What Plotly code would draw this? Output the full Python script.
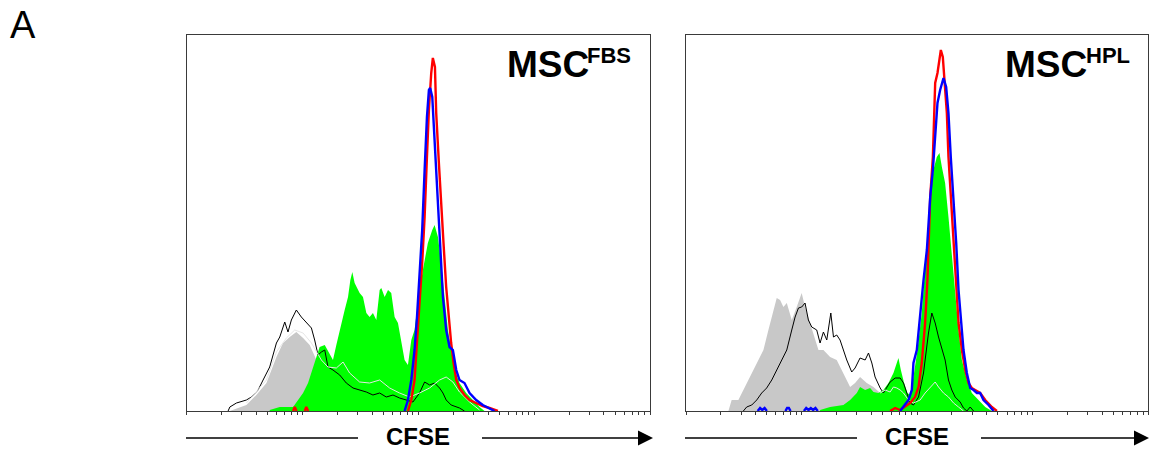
import numpy as np
import plotly.graph_objects as go

# ---------------- DATA (x = log10 CFSE intensity, y = event counts) ----------------
# Panel 1: MSC FBS
fbs_gray_log = [0.374, 0.517, 0.603, 0.690, 0.776, 0.833, 0.891, 0.948, 1.006, 1.063, 1.121, 1.207, 1.322, 1.494, 1.667]
fbs_gray_cnt = [0, 6, 16, 28, 54, 68, 74, 79, 73, 66, 51, 30, 12, 4, 0]

fbs_green_log = [0.718, 0.805, 0.920, 1.006, 1.049, 1.092, 1.121, 1.149, 1.193, 1.236, 1.264, 1.293, 1.322, 1.365,
                 1.394, 1.414, 1.431, 1.451, 1.494, 1.523, 1.552, 1.580, 1.609, 1.638, 1.667, 1.681, 1.710, 1.739,
                 1.767, 1.796, 1.825, 1.853, 1.882, 1.911, 1.940, 1.968, 1.997, 2.040, 2.083, 2.121, 2.141, 2.170,
                 2.198, 2.227, 2.256, 2.284, 2.313, 2.356, 2.414, 2.471, 2.529, 2.572]
fbs_green_cnt = [1, 4, 4, 18, 28, 44, 56, 64, 66, 56, 51, 66, 81, 101,
                 114, 131, 139, 128, 118, 114, 98, 94, 98, 91, 121, 123, 114, 121,
                 118, 94, 88, 68, 51, 46, 71, 81, 108, 141, 168, 181, 186, 174,
                 148, 114, 81, 61, 41, 28, 18, 11, 4, 0]

fbs_black_log = [0.359, 0.374, 0.431, 0.517, 0.560, 0.618, 0.661, 0.718, 0.776, 0.805, 0.848, 0.876, 0.905, 0.948,
                 0.991, 1.034, 1.078, 1.106, 1.135, 1.164, 1.193, 1.221, 1.264, 1.322, 1.379, 1.437, 1.494, 1.552,
                 1.609, 1.667, 1.724, 1.782, 1.839, 1.897, 1.954, 2.011, 2.055, 2.098, 2.141, 2.184, 2.213, 2.241,
                 2.284, 2.356, 2.399]
fbs_black_cnt = [0, 4, 8, 11, 14, 21, 31, 44, 68, 74, 89, 79, 91, 101,
                 94, 88, 83, 71, 56, 59, 61, 44, 41, 36, 28, 23, 21, 19,
                 16, 18, 14, 16, 13, 11, 9, 18, 29, 26, 28, 23, 18, 11,
                 6, 3, 0]

fbs_white_log = [0.517, 0.690, 0.776, 0.862, 0.934, 1.006, 1.078, 1.121, 1.164, 1.221, 1.293, 1.351, 1.408, 1.494,
                 1.580, 1.667, 1.753, 1.839, 1.925, 2.011, 2.098, 2.184, 2.241, 2.299, 2.356, 2.443, 2.529]
fbs_white_cnt = [8, 31, 59, 73, 81, 78, 68, 59, 51, 44, 43, 49, 38, 29,
                 28, 31, 23, 18, 14, 18, 23, 31, 34, 29, 19, 9, 1]

fbs_red_log = [0.920, 0.934, 0.950, None, 1.020, 1.034, 1.050, None,
               1.911, 1.940, 1.968, 1.989, 2.011, 2.034, 2.055, 2.075, 2.092, 2.112, 2.126, 2.144, 2.155, 2.178,
               2.198, 2.218, 2.241, 2.264, 2.284, 2.305, 2.328, 2.356, 2.399, 2.443, 2.500, 2.557, 2.615, 2.687]
fbs_red_cnt = [0, 4, 0, None, 0, 4, 0, None,
               0, 11, 31, 64, 108, 148, 194, 254, 301, 338, 353, 344, 298, 248,
               201, 168, 124, 91, 68, 48, 31, 23, 16, 11, 8, 5, 3, 0]

fbs_blue_log = [1.882, 1.911, 1.940, 1.968, 1.989, 2.011, 2.034, 2.055, 2.075, 2.092, 2.103, 2.121, 2.141, 2.161,
                2.184, 2.213, 2.241, 2.270, 2.299, 2.328, 2.356, 2.399, 2.443, 2.500, 2.557, 2.615, 2.658]
fbs_blue_cnt = [0, 11, 31, 61, 94, 141, 181, 241, 294, 321, 323, 314, 271, 221,
                168, 114, 81, 64, 61, 41, 31, 28, 18, 11, 6, 3, 0]

# Panel 2: MSC HPL
hpl_gray_log = [0.367, 0.395, 0.453, 0.496, 0.554, 0.612, 0.670, 0.713, 0.756, 0.785, 0.814, 0.843, 0.872, 0.915,
                0.958, 1.001, 1.030, 1.074, 1.117, 1.146, 1.189, 1.247, 1.304, 1.362, 1.420, 1.463, 1.506, 1.564,
                1.622, 1.680, 1.737, 1.795, 1.853]
hpl_gray_cnt = [0, 11, 11, 21, 34, 48, 61, 81, 101, 113, 111, 104, 108, 91,
                104, 118, 104, 88, 74, 61, 61, 54, 51, 38, 24, 28, 34, 28,
                24, 18, 11, 4, 0]

hpl_green_log = [1.160, 1.247, 1.362, 1.420, 1.478, 1.506, 1.550, 1.593, 1.622, 1.665, 1.708, 1.752, 1.795, 1.824,
                 1.838, 1.859, 1.887, 1.916, 1.939, 1.968, 2.003, 2.040, 2.069, 2.089, 2.113, 2.141, 2.170, 2.193,
                 2.214, 2.242, 2.271, 2.300, 2.329, 2.358, 2.387, 2.430, 2.473, 2.531, 2.589, 2.646]
hpl_green_cnt = [1, 4, 6, 11, 18, 24, 21, 23, 19, 18, 21, 28, 38, 48,
                 53, 41, 28, 18, 16, 34, 61, 98, 148, 174, 208, 241, 254, 258,
                 244, 228, 194, 154, 114, 81, 51, 31, 18, 11, 4, 0]

hpl_black_log = [0.496, 0.525, 0.569, 0.612, 0.655, 0.698, 0.742, 0.785, 0.828, 0.872, 0.915, 0.944, 0.973, 1.001,
                 1.030, 1.059, 1.088, 1.131, 1.160, 1.189, 1.218, 1.253, 1.276, 1.304, 1.333, 1.362, 1.391, 1.434,
                 1.463, 1.506, 1.550, 1.579, 1.608, 1.636, 1.680, 1.708, 1.737, 1.766, 1.810, 1.853, 1.882, 1.911,
                 1.939, 1.968, 2.012, 2.055, 2.098, 2.127, 2.156, 2.185, 2.214, 2.242, 2.271, 2.300, 2.329, 2.372,
                 2.401, 2.430, 2.459, 2.488]
hpl_black_cnt = [0, 4, 6, 11, 18, 23, 31, 41, 51, 61, 81, 94, 103, 104,
                 108, 91, 84, 81, 68, 79, 71, 98, 74, 76, 71, 61, 51, 39,
                 43, 53, 51, 58, 48, 34, 23, 18, 24, 29, 33, 33, 28, 18,
                 8, 6, 14, 38, 78, 98, 88, 74, 61, 51, 31, 21, 14, 9,
                 3, 0, 4, 0]

hpl_white_log = [1.680, 1.723, 1.766, 1.795, 1.824, 1.853, 1.882, 1.925, 1.968, 2.026, 2.069, 2.113, 2.156, 2.185,
                 2.228, 2.271, 2.315, 2.358, 2.401]
hpl_white_cnt = [18, 21, 19, 24, 23, 21, 18, 11, 8, 11, 18, 24, 29, 24,
                 18, 14, 8, 4, 0]

hpl_red_log = [1.766, 1.810, 1.853, 1.939, 1.982, 2.012, 2.040, 2.069, 2.089, 2.113, 2.136, 2.156, 2.176, 2.193,
               2.205, 2.222, 2.234, 2.257, 2.271, 2.291, 2.315, 2.338, 2.358, 2.387, 2.416, 2.444, 2.473, 2.502,
               2.545, 2.589, 2.646, 2.690]
hpl_red_cnt = [0, 3, 1, 8, 14, 24, 48, 88, 131, 214, 254, 328, 338, 354,
               361, 354, 334, 298, 254, 214, 164, 121, 88, 61, 41, 28, 23, 21,
               18, 11, 4, 0]

hpl_blue_log = [0.620, 0.641, 0.660, 0.680, 0.700, None, 0.860, 0.875, 0.890, 0.905, None,
                1.020, 1.040, 1.060, 1.080, 1.100, 1.120, 1.140, None,
                1.853, 1.882, 1.925, 1.954, 1.968, 1.997, 2.026, 2.055, 2.084, 2.113, 2.136, 2.156, 2.176, 2.199,
                2.228, 2.251, 2.271, 2.291, 2.315, 2.338, 2.358, 2.378, 2.401, 2.430, 2.459, 2.488, 2.517, 2.545,
                2.574, 2.618, 2.661]
hpl_blue_cnt = [0, 3, 1, 3, 0, None, 0, 3, 3, 0, None,
                0, 3, 1, 3, 1, 3, 0, None,
                0, 4, 11, 21, 48, 61, 98, 131, 161, 214, 241, 281, 308, 321,
                333, 324, 298, 254, 214, 168, 121, 91, 61, 38, 23, 21, 18, 18,
                11, 6, 0]

panel_titles = ["MSC", "MSC"]
panel_supers = ["FBS", "HPL"]
axis_label = "CFSE"
panel_letter = "A"
tick_values = [k * 10 ** d for d in range(4) for k in range(1, 10)] + [10 ** 4]

# ---------------- STYLE ----------------
W, H = 1150, 452
FONT = "Liberation Sans, Arial, Helvetica, sans-serif"
GRAY = "#c8c8c8"
GREEN = "#00ff00"
RED = "#ff0000"
BLUE = "#0000ff"
WHITE_LINE = "#e6e6e6"
FRAME = "#3a3a3a"


def px(x):
    return x / W


def py(y):
    return 1 - y / H


def tolin(vals):
    return [None if v is None else 10 ** v for v in vals]


fig = go.Figure()

panels = [
    dict(xa="x", ya="y",
         gray=(fbs_gray_log, fbs_gray_cnt), green=(fbs_green_log, fbs_green_cnt),
         black=(fbs_black_log, fbs_black_cnt), white=(fbs_white_log, fbs_white_cnt),
         red=(fbs_red_log, fbs_red_cnt), blue=(fbs_blue_log, fbs_blue_cnt)),
    dict(xa="x2", ya="y2",
         gray=(hpl_gray_log, hpl_gray_cnt), green=(hpl_green_log, hpl_green_cnt),
         black=(hpl_black_log, hpl_black_cnt), white=(hpl_white_log, hpl_white_cnt),
         red=(hpl_red_log, hpl_red_cnt), blue=(hpl_blue_log, hpl_blue_cnt)),
]

for p in panels:
    for key, col in (("gray", GRAY), ("green", GREEN)):
        lx, cy = p[key]
        fig.add_trace(go.Scatter(x=tolin(lx), y=cy, mode="lines", fill="tozeroy",
                                 fillcolor=col, line=dict(width=0, color=col),
                                 xaxis=p["xa"], yaxis=p["ya"], hoverinfo="skip", showlegend=False))
    for key, col, wd in (("black", "#000000", 1), ("white", WHITE_LINE, 1),
                         ("red", RED, 2.4), ("blue", BLUE, 2.4)):
        lx, cy = p[key]
        fig.add_trace(go.Scatter(x=tolin(lx), y=cy, mode="lines",
                                 line=dict(width=wd, color=col), connectgaps=False,
                                 xaxis=p["xa"], yaxis=p["ya"], hoverinfo="skip", showlegend=False))

# axes
x_domains = [[px(186.5), px(650)], [px(686), px(1148.3)]]
y_domain = [py(411), py(35)]
for i, dom in enumerate(x_domains):
    sfx = "" if i == 0 else str(i + 1)
    fig.update_layout(**{
        "xaxis" + sfx: dict(type="log", range=[0, 4], domain=dom, anchor="y" + sfx,
                            showline=True, mirror=True, linecolor=FRAME, linewidth=1,
                            ticks="outside", ticklen=3, tickwidth=1, tickcolor=FRAME,
                            tickvals=tick_values, showticklabels=False,
                            showgrid=False, zeroline=False),
        "yaxis" + sfx: dict(range=[0, 376], domain=y_domain, anchor="x" + sfx,
                            showline=True, mirror=True, linecolor=FRAME, linewidth=1,
                            ticks="", showticklabels=False, showgrid=False, zeroline=False),
    })

shapes = []
annotations = []
# CFSE arrows
arrow_specs = [(186, 358, 482, 653, 418), (685, 857, 981, 1149, 917)]
for l0, l1, r0, tip, cx in arrow_specs:
    shapes.append(dict(type="line", xref="paper", yref="paper", x0=px(l0), x1=px(l1),
                       y0=py(438), y1=py(438), line=dict(color="black", width=1.3)))
    shapes.append(dict(type="line", xref="paper", yref="paper", x0=px(r0), x1=px(tip - 12),
                       y0=py(438), y1=py(438), line=dict(color="black", width=1.3)))
    shapes.append(dict(type="path", xref="paper", yref="paper",
                       path=f"M {px(tip - 15)} {py(430.5)} L {px(tip)} {py(438)} L {px(tip - 15)} {py(445.5)} Z",
                       fillcolor="black", line=dict(color="black", width=0)))
    annotations.append(dict(text="<b>" + axis_label + "</b>", xref="paper", yref="paper",
                            x=px(cx), y=py(436), xanchor="center", yanchor="middle",
                            showarrow=False, font=dict(family=FONT, size=24, color="black"),
                            borderpad=0))

# panel titles
title_specs = [(590, 586), (1088, 1084.5)]
for (main_end, sup_start), t, s in zip(title_specs, panel_titles, panel_supers):
    annotations.append(dict(text="<b>" + t + "</b>", xref="paper", yref="paper",
                            x=px(main_end), y=py(64), xanchor="right", yanchor="middle",
                            showarrow=False, font=dict(family=FONT, size=37, color="black"),
                            borderpad=0))
    annotations.append(dict(text="<b>" + s + "</b>", xref="paper", yref="paper",
                            x=px(sup_start), y=py(56), xanchor="left", yanchor="middle",
                            showarrow=False, font=dict(family=FONT, size=22, color="black"),
                            borderpad=0))

annotations.append(dict(text=panel_letter, xref="paper", yref="paper", x=px(23), y=py(25),
                        xanchor="center", yanchor="middle", showarrow=False,
                        font=dict(family=FONT, size=38, color="black"), borderpad=0))

fig.update_layout(width=W, height=H, margin=dict(l=0, r=0, t=0, b=0),
                  paper_bgcolor="white", plot_bgcolor="white",
                  shapes=shapes, annotations=annotations, showlegend=False)

fig.write_html("out.html")
